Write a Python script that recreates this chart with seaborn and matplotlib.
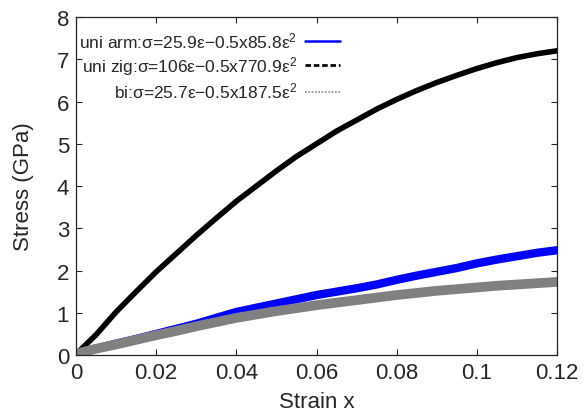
import numpy as np
import pandas as pd
import matplotlib
matplotlib.use('Agg')
import matplotlib.pyplot as plt
from matplotlib.lines import Line2D
from matplotlib.ticker import FuncFormatter, MultipleLocator
import seaborn as sns

# --- datos (deformacion vs esfuerzo en GPa) ---
strain = [0.000, 0.005, 0.010, 0.015, 0.020, 0.025, 0.030, 0.035, 0.040,
          0.045, 0.050, 0.055, 0.060, 0.065, 0.070, 0.075, 0.080, 0.085,
          0.090, 0.095, 0.100, 0.105, 0.110, 0.115, 0.120]

stress_uni_arm = [0.03, 0.15, 0.27, 0.38, 0.50, 0.62, 0.74, 0.88, 1.02,
                  1.12, 1.22, 1.32, 1.42, 1.50, 1.58, 1.67, 1.78, 1.88,
                  1.97, 2.06, 2.17, 2.26, 2.34, 2.42, 2.48]

stress_uni_zig = [0.02, 0.48, 1.02, 1.50, 1.97, 2.40, 2.83, 3.24, 3.64,
                  4.00, 4.36, 4.70, 5.00, 5.30, 5.56, 5.82, 6.05, 6.26,
                  6.45, 6.62, 6.78, 6.92, 7.04, 7.13, 7.20]

stress_bi = [0.03, 0.15, 0.25, 0.36, 0.47, 0.57, 0.68, 0.78, 0.88,
             0.96, 1.04, 1.11, 1.18, 1.24, 1.30, 1.36, 1.42, 1.47,
             1.52, 1.56, 1.60, 1.64, 1.67, 1.70, 1.73]

labels = [r'uni arm:σ=25.9ε−0.5x85.8ε$^{\mathbf{2}}$',
          r'uni zig:σ=106ε−0.5x770.9ε$^{\mathbf{2}}$',
          r'bi:σ=25.7ε−0.5x187.5ε$^{\mathbf{2}}$']

df = pd.DataFrame({'strain': strain,
                   'uni_arm': stress_uni_arm,
                   'uni_zig': stress_uni_zig,
                   'bi': stress_bi})

sns.set_style('ticks')
plt.rcParams['font.family'] = ['Liberation Sans', 'DejaVu Sans']
plt.rcParams['mathtext.fontset'] = 'custom'
plt.rcParams['mathtext.rm'] = 'Liberation Sans'
plt.rcParams['mathtext.it'] = 'Liberation Sans'
plt.rcParams['mathtext.bf'] = 'Liberation Sans'

fig = plt.figure(figsize=(5.87, 4.14), dpi=100)
ax = fig.add_axes([0.1295, 0.14, 0.8195, 0.8165])

sns.lineplot(data=df, x='strain', y='uni_arm', ax=ax, color='#0000ff', lw=6,
             solid_joinstyle='round')
sns.lineplot(data=df, x='strain', y='uni_zig', ax=ax, color='black', lw=4,
             solid_joinstyle='round')
sns.lineplot(data=df, x='strain', y='bi', ax=ax, color='#808080', lw=7,
             solid_joinstyle='round')

ax.set_xlim(0, 0.12)
ax.set_ylim(0, 8)
ax.xaxis.set_major_locator(MultipleLocator(0.02))
ax.yaxis.set_major_locator(MultipleLocator(1))
ax.xaxis.set_major_formatter(FuncFormatter(lambda v, p: f'{v:g}'))
ax.yaxis.set_major_formatter(FuncFormatter(lambda v, p: f'{v:g}'))
ax.tick_params(direction='in', length=4.5, width=0.8, top=True, right=True,
               labelsize=16, pad=5)
for s in ax.spines.values():
    s.set_linewidth(0.9)
ax.set_xlabel('Strain x', fontsize=16, labelpad=6)
ax.set_ylabel('Stress (GPa)', fontsize=16, labelpad=16)

# leyenda estilo gnuplot: texto a la izquierda, muestra de linea a la derecha
handles = [Line2D([], [], color='#0000ff', lw=1.8),
           Line2D([], [], color='black', lw=2, ls=(0, (2, 1))),
           Line2D([], [], color='#888888', lw=1.2, ls=(0, (1, 1)))]
fig.legend(handles, labels, loc='upper right', bbox_to_anchor=(0.579, 0.924),
           frameon=False, markerfirst=False, fontsize=12.5, handlelength=2.0,
           handletextpad=0.45, labelspacing=0.22, borderpad=0, borderaxespad=0)

plt.savefig('out.png', dpi=100)
plt.close()
